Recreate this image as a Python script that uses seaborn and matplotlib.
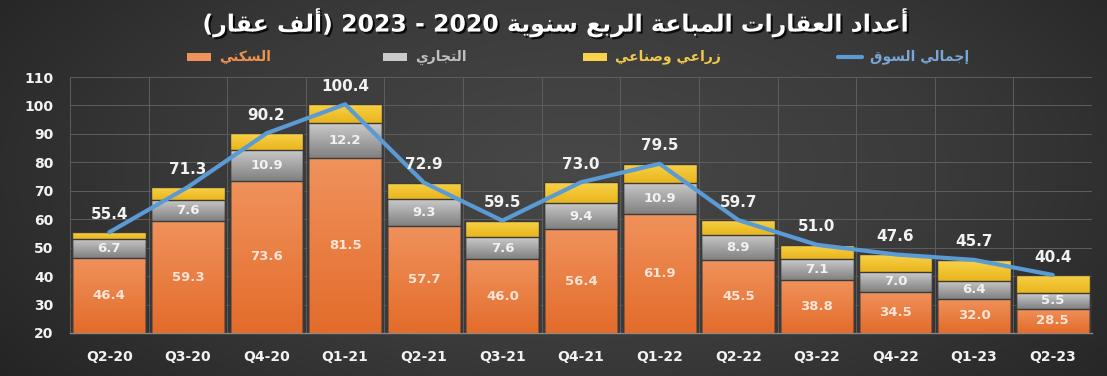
import re
import numpy as np
import pandas as pd
import seaborn as sns
import matplotlib.pyplot as plt
import matplotlib.patheffects as pe
from matplotlib.patches import Rectangle
from matplotlib.lines import Line2D
from matplotlib.colors import LinearSegmentedColormap

quarters = ['Q2-20', 'Q3-20', 'Q4-20', 'Q1-21', 'Q2-21', 'Q3-21', 'Q4-21',
            'Q1-22', 'Q2-22', 'Q3-22', 'Q4-22', 'Q1-23', 'Q2-23']
residential = [46.4, 59.3, 73.6, 81.5, 57.7, 46.0, 56.4, 61.9, 45.5, 38.8, 34.5, 32.0, 28.5]
commercial = [6.7, 7.6, 10.9, 12.2, 9.3, 7.6, 9.4, 10.9, 8.9, 7.1, 7.0, 6.4, 5.5]
total = [55.4, 71.3, 90.2, 100.4, 72.9, 59.5, 73.0, 79.5, 59.7, 51.0, 47.6, 45.7, 40.4]

title = 'أعداد العقارات المباعة الربع سنوية 2020 - 2023 (ألف عقار)'
series_names = ['السكني', 'التجاري', 'زراعي وصناعي', 'إجمالي السوق']

# --- minimal arabic shaping (matplotlib has no complex text layout) ---
AR_LETTERS = 'ءآأؤإئابةتثجحخدذرزسشصضطظعغفقكلمنهوىي'
AR_NFORMS = [1, 2, 2, 2, 2, 4, 2, 4, 2, 4, 4, 4, 4, 4, 2, 2, 2, 2,
             4, 4, 4, 4, 4, 4, 4, 4, 4, 4, 4, 4, 4, 4, 4, 2, 2, 4]
FORMS = {}
code = 0xFE80
for ch, n in zip(AR_LETTERS, AR_NFORMS):
    FORMS[ch] = [chr(code + i) for i in range(n)]
    code += n
LAM_ALEF = {'آ': 0xFEF5, 'أ': 0xFEF7, 'إ': 0xFEF9, 'ا': 0xFEFB}


def shape(text):
    toks, i = [], 0
    while i < len(text):
        if text[i] == 'ل' and i + 1 < len(text) and text[i + 1] in LAM_ALEF:
            toks.append(('LA', text[i + 1]))
            i += 2
        else:
            toks.append(('C', text[i]))
            i += 1

    def joins_next(t):
        return t[0] == 'C' and t[1] in FORMS and len(FORMS[t[1]]) == 4

    def is_ar(t):
        return t[0] == 'LA' or t[1] in FORMS

    out = []
    for k, t in enumerate(toks):
        prev_j = k > 0 and joins_next(toks[k - 1])
        next_j = k + 1 < len(toks) and is_ar(toks[k + 1]) and joins_next(t)
        if t[0] == 'LA':
            out.append(chr(LAM_ALEF[t[1]] + (1 if prev_j else 0)))
        elif t[1] in FORMS:
            f = FORMS[t[1]]
            if len(f) == 1:
                out.append(f[0])
            elif len(f) == 2:
                out.append(f[1] if prev_j else f[0])
            else:
                idx = (3 if next_j else 1) if prev_j else (2 if next_j else 0)
                out.append(f[idx])
        else:
            out.append(t[1])
    return ''.join(out)


def ar(text):
    s = shape(text)[::-1]
    s = re.sub(r'\d+', lambda m: m.group(0)[::-1], s)
    return s.translate(str.maketrans('()', ')('))


df = pd.DataFrame({'quarter': quarters, 'res': residential, 'com': commercial, 'total': total})
df['res_com'] = df['res'] + df['com']

sns.set_theme(style='dark')
plt.rcParams['font.family'] = ['DejaVu Sans']

fig = plt.figure(figsize=(11.07, 3.76), dpi=100)

# dark radial background
bg = fig.add_axes([0, 0, 1, 1], zorder=-10)
yy, xx = np.mgrid[0:1:200j, 0:1:600j]
r = np.sqrt(((xx - 0.52) / 0.75) ** 2 + ((yy - 0.45) / 1.1) ** 2)
bg_cmap = LinearSegmentedColormap.from_list('bg', ['#484848', '#3a3a3a', '#222222'])
bg.imshow(r, cmap=bg_cmap, aspect='auto', extent=(0, 1, 0, 1), vmin=0, vmax=0.9)
bg.set_axis_off()

ax = fig.add_axes([0.0632, 0.1144, 0.9233, 0.6808])
ax.set_facecolor('none')

yellow = ['#e9b51c', '#f8d24a']
grey = ['#808080', '#cacaca']
orange = ['#e36c2b', '#f0925c']

sns.barplot(data=df, x='quarter', y='total', color=yellow[1], width=0.94, ax=ax, saturation=1)
sns.barplot(data=df, x='quarter', y='res_com', color=grey[1], width=0.94, ax=ax, saturation=1)
sns.barplot(data=df, x='quarter', y='res', color=orange[1], width=0.94, ax=ax, saturation=1)

ymin, ymax = 20, 110
ax.set_ylim(ymin, ymax)
xl = (-0.5, len(quarters) - 0.5)

# vertical gradients clipped to each bar
n = len(quarters)
grad = np.linspace(0, 1, 100).reshape(-1, 1)
for g, cols in enumerate([yellow, grey, orange]):
    cmap = LinearSegmentedColormap.from_list('c%d' % g, cols)
    for j, p in enumerate(ax.patches[g * n:(g + 1) * n]):
        x0, w, h = p.get_x(), p.get_width(), p.get_height()
        if g == 0:
            y0 = df['res_com'].iloc[j]
        elif g == 1:
            y0 = df['res'].iloc[j]
        else:
            y0 = ymin
        im = ax.imshow(grad, cmap=cmap, aspect='auto', origin='lower',
                       extent=(x0, x0 + w, y0, h), zorder=2 + g)
        im.set_clip_path(p)
        p.set_facecolor('none')
        p.set_edgecolor('#3a3a3a')
        p.set_linewidth(1.0)
        p.set_zorder(6)

ax.set_xlim(*xl)
ax.set_ylim(ymin, ymax)

sns.lineplot(data=df, x='quarter', y='total', color='#5b9bd5', linewidth=3, ax=ax,
             zorder=8, sort=False)

# value labels
for i, row in df.iterrows():
    ax.text(i, (ymin + row['res']) / 2, f"{row['res']:.1f}", ha='center', va='center',
            color='#fde4d6', fontsize=9.5, fontweight='bold', zorder=9)
    ax.text(i, row['res'] + row['com'] / 2, f"{row['com']:.1f}", ha='center', va='center',
            color='#f2f2f2', fontsize=9.5, fontweight='bold', zorder=9)
    ax.text(i, row['total'] + 6.3, f"{row['total']:.1f}", ha='center', va='center',
            color='#f2f2f2', fontsize=11, fontweight='bold', zorder=9)

ax.set_yticks(np.arange(20, 111, 10))
ax.set_xticks(range(n))
ax.set_xticks(np.arange(-0.5, n, 1), minor=True)
ax.grid(False)
ax.yaxis.grid(True, color='#5e5e5e', linewidth=0.7)
ax.xaxis.grid(True, which='minor', color='#5e5e5e', linewidth=0.7)
ax.set_axisbelow(True)
ax.tick_params(axis='both', which='both', length=0, colors='#f2f2f2', labelsize=10)
ax.tick_params(axis='x', pad=12)
ax.tick_params(axis='y', pad=12)
for lab in ax.get_xticklabels() + ax.get_yticklabels():
    lab.set_fontweight('bold')
ax.set_xlabel('')
ax.set_ylabel('')
for s in ['top', 'right', 'left']:
    ax.spines[s].set_visible(False)
ax.spines['bottom'].set_color('#8a8a8a')
ax.spines['bottom'].set_linewidth(1.0)

# title
fig.text(0.502, 0.94, ar(title), ha='center', va='center', color='white',
         fontsize=17, fontweight='bold',
         path_effects=[pe.withSimplePatchShadow(offset=(1.5, -1.5), shadow_rgbFace='black', alpha=0.8)])

# legend (handle to the left of each label)
leg_y = 1 - 57 / 376
leg_items = [
    (187, 'box', orange[1], '#f0924f', series_names[0]),
    (383, 'box', grey[1], '#bfbfbf', series_names[1]),
    (583, 'box', yellow[1], '#f2c94c', series_names[2]),
    (838, 'line', '#5b9bd5', '#7aa6d6', series_names[3]),
]
for px, kind, hc, tc, name in leg_items:
    x = px / 1107
    if kind == 'box':
        fig.patches.append(Rectangle((x, leg_y - 0.011), 24 / 1107, 0.022, transform=fig.transFigure,
                                     facecolor=hc, edgecolor='none', figure=fig))
    else:
        fig.lines.append(Line2D([x, x + 24 / 1107], [leg_y, leg_y], transform=fig.transFigure,
                                color=hc, linewidth=3, figure=fig))
    fig.text(x + 32 / 1107, leg_y, ar(name), ha='left', va='center', color=tc,
             fontsize=10, fontweight='bold')

fig.savefig('out.png', dpi=100, facecolor=fig.get_facecolor())
